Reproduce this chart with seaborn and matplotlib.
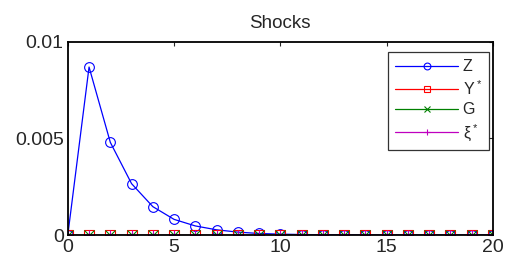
import matplotlib
matplotlib.use("Agg")
import matplotlib.pyplot as plt
import seaborn as sns
import pandas as pd

# impulse responses
periods = list(range(21))
z_vals = [0, 0.0087, 0.0048, 0.00266, 0.00147, 0.00081, 0.00047, 0.00027,
          0.00015, 0.00008, 0.000045, 0.000025, 0.000014, 0.000008, 0.000004,
          0.000002, 0.000001, 0.0000006, 0.0000003, 0.0000002, 0.0000001]
y_vals = [0] * 21
g_vals = [0] * 21
xi_vals = [0] * 21

labels = ["Z", "Y$^*$", "G", "ξ$^*$"]
series = [z_vals, y_vals, g_vals, xi_vals]
colors = ["#0000ff", "#ff0000", "#008000", "#bf00bf"]
markers = ["o", "s", "x", "+"]

sns.set_style("white")
plt.rcParams["font.family"] = ["Liberation Sans", "DejaVu Sans"]
plt.rcParams["mathtext.fontset"] = "custom"
plt.rcParams["mathtext.rm"] = "Liberation Sans"

fig = plt.figure(figsize=(5.06, 2.62), dpi=100)
ax = fig.add_axes([0.134, 0.103, 0.840, 0.737])

for lab, vals, col, mk in zip(labels, series, colors, markers):
    df = pd.DataFrame({"t": periods, "v": vals})
    sns.lineplot(data=df, x="t", y="v", ax=ax, color=col, marker=mk,
                 markersize=7, mfc="none", mec=col, mew=0.8, lw=0.9,
                 label=lab)

ax.set_xlim(0, 20)
ax.set_ylim(0, 0.01)
ax.set_xticks([0, 5, 10, 15, 20])
ax.set_yticks([0, 0.005, 0.01])
ax.set_yticklabels(["0", "0.005", "0.01"])
ax.set_xlabel("")
ax.set_ylabel("")
ax.tick_params(direction="in", top=True, right=True, length=3, width=0.8,
               labelsize=14, pad=3)
for s in ax.spines.values():
    s.set_visible(True)
    s.set_color("black")
    s.set_linewidth(1.3)
ax.set_title("Shocks", fontsize=13.5, pad=10)

leg = ax.legend(loc="upper right", bbox_to_anchor=(0.9906, 0.948),
                fontsize=11.5, frameon=True, fancybox=False,
                borderaxespad=0, handlelength=3.9, labelspacing=0.3,
                handletextpad=0.3, borderpad=0.45, markerscale=0.7)
leg.get_frame().set_edgecolor("black")
leg.get_frame().set_linewidth(0.9)

fig.savefig("out.png", dpi=100)
